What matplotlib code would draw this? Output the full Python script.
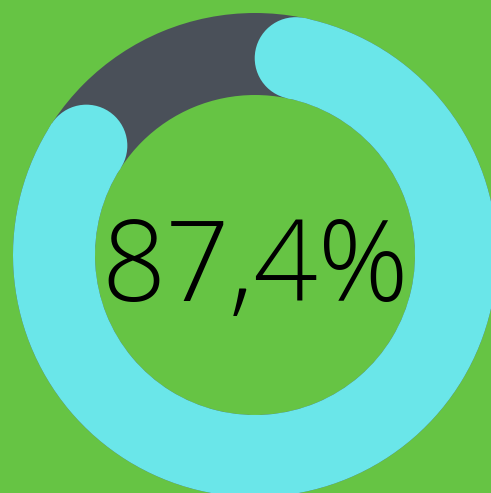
import matplotlib
matplotlib.use("Agg")
import matplotlib.pyplot as plt
from matplotlib.patches import Wedge, Circle
import numpy as np

# data
percent = 87.4
label = "87,4%"

bg_color = "#66c444"
track_color = "#4a5059"
arc_color = "#6ae6e9"

W, H = 491, 493
cx, cy = 255, H - 255
r_out, ring_w = 242, 82
r_mid = r_out - ring_w / 2

fig = plt.figure(figsize=(W / 100, H / 100), dpi=100)
fig.patch.set_facecolor(bg_color)
ax = fig.add_axes([0, 0, 1, 1])
ax.set_xlim(0, W)
ax.set_ylim(0, H)
ax.set_aspect("equal")
ax.axis("off")

# grey track
ax.add_patch(Wedge((cx, cy), r_out, 0, 360, width=ring_w, color=track_color, lw=0))

# progress arc, clockwise from 12 o'clock, round caps included in the span
span = percent / 100 * 360
cap = np.degrees((ring_w / 2) / r_mid)
a1, a2 = cap, span - cap
ax.add_patch(Wedge((cx, cy), r_out, 90 - a2, 90 - a1, width=ring_w, color=arc_color, lw=0))
for a in (a1, a2):
    t = np.radians(90 - a)
    ax.add_patch(Circle((cx + r_mid * np.cos(t), cy + r_mid * np.sin(t)), ring_w / 2,
                        color=arc_color, lw=0))

ax.text(cx, H - 258.5, label, ha="center", va="center_baseline", fontsize=81,
        family="Open Sans", fontweight="light", color="black")

fig.savefig("out.png", dpi=100, facecolor=bg_color)
